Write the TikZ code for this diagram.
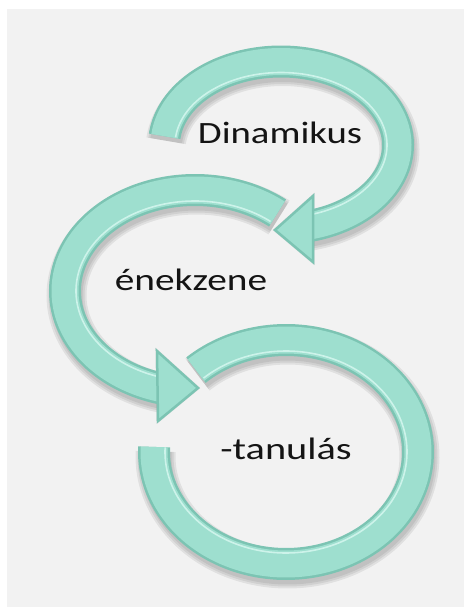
\documentclass[tikz,border=0pt]{standalone}
\usepackage{fontspec}
\setmainfont{Carlito}
\usepackage{graphicx}
\definecolor{bg}{HTML}{F2F2F2}
\definecolor{band}{HTML}{9EDFCF}
\definecolor{bandedge}{HTML}{7CC4B3}
\definecolor{bandlight}{HTML}{CDF3EA}
\tikzset{
  ringshadow/.style={draw=black, opacity=0.07, shift={(1.5,4.5)}},
  ringedge/.style={line width=32pt, draw=bandedge},
  ringbody/.style={line width=27pt, draw=band},
  ringhi/.style={line width=1.6pt, draw=bandlight},
  headshape/.style={fill=band, draw=bandedge, line width=2.5pt, line join=miter},
  headshadow/.style={fill=black, draw=black, line width=3pt, opacity=0.09, shift={(1.5,4.5)}},
  lbl/.style={font=\fontsize{31}{31}\selectfont, text=black!92, inner sep=0pt, anchor=base},
}
% #1 style, #2 cx, #3 cy, #4 rx, #5 ry, #6 t1, #7 t2
\newcommand\bandline[7]{\draw[#1] plot[domain=#6:#7,samples=150,variable=\t]({#2+(#4)*cos(\t)},{#3+(#5)*sin(\t)});}
\newcommand\bandfull[6]{%
  \bandline{ringedge}{#1}{#2}{#3}{#4}{#5}{#6}
  \bandline{ringbody}{#1}{#2}{#3}{#4}{#5}{#6}
  \bandline{ringhi}{#1}{#2}{#3-11}{#4-11}{#5}{#6}
}
\newcommand\bandshadow[6]{%
  \bandline{ringshadow,line width=40pt}{#1}{#2}{#3}{#4}{#5}{#6}
  \bandline{ringshadow,line width=36pt}{#1}{#2}{#3}{#4}{#5}{#6}
  \bandline{ringshadow,line width=32pt}{#1}{#2}{#3}{#4}{#5}{#6}
}
\begin{document}
\begin{tikzpicture}[x=1pt,y=-1pt]
\useasboundingbox (0,0) rectangle (464,607);
\fill[white] (0,0) rectangle (464,607);
\fill[bg] (7,9) rectangle (464,607);
% arrow head coordinates
\coordinate (h1a) at (313,196);
\coordinate (h1b) at (313,262);
\coordinate (h1t) at (275,230);
\coordinate (h2a) at (157,351);
\coordinate (h2b) at (158,421);
\coordinate (h2t) at (198,388);
% shadows
\bandshadow{281}{145}{117}{83.5}{186}{440}
\bandshadow{195}{291}{130}{101}{102}{309.4}
\bandshadow{286}{452}{132}{112}{227}{542.6}
\draw[headshadow] (h1a) -- (h1t) -- (h1b) -- cycle;
\draw[headshadow] (h2a) -- (h2t) -- (h2b) -- cycle;
% ring 1 (Dinamikus)
\bandfull{281}{145}{117}{83.5}{186}{440}
\draw[headshape] (h1a) -- (h1t) -- (h1b) -- cycle;
% ring 2 (enekzene)
\bandfull{195}{291}{130}{101}{102}{309.4}
\draw[headshape] (h2a) -- (h2t) -- (h2b) -- cycle;
% ring 3 (tanulas)
\bandfull{286}{452}{132}{112}{227}{542.6}
% labels
\node[lbl] (t1) at (280,143) {\scalebox{1.25}[1]{Dinamikus}};
\node[lbl] (t2) at (191,290) {\scalebox{1.27}[1]{énekzene}};
\node[lbl] (t3) at (286,459) {\scalebox{1.3}[1]{-tanulás}};
\end{tikzpicture}
\end{document}
